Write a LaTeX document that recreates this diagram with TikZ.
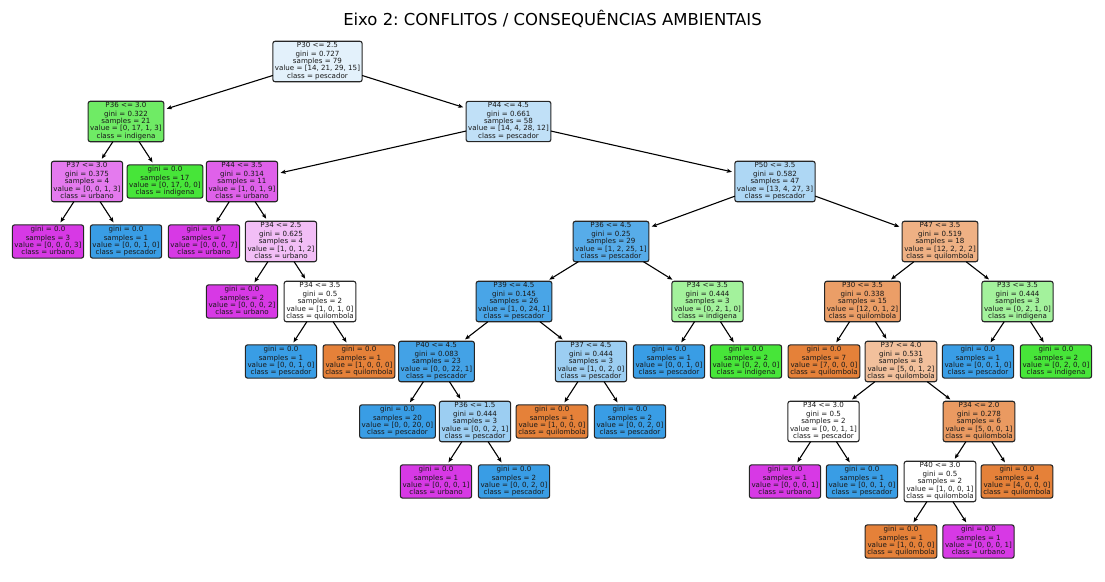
\documentclass[tikz,border=0pt]{standalone}
\usepackage{fontspec}
\setmainfont{DejaVu Sans}
\frenchspacing
\usetikzlibrary{arrows.meta}
\definecolor{quil}{HTML}{E58139}
\definecolor{ind}{HTML}{47E539}
\definecolor{pesc}{HTML}{399DE5}
\definecolor{urb}{HTML}{D739E5}
\begin{document}
\begin{tikzpicture}[x=1pt,y=-1pt,
  tnode/.style={draw=black!85,line width=1.1pt,rounded corners=2.2pt,align=center,
    font=\fontsize{7.1}{7.33}\selectfont,inner xsep=2.1pt,inner ysep=1.2pt,outer sep=0pt,text=black!90},
  edge/.style={draw=black,line width=1.1pt,-{Stealth[length=5pt,width=4pt,inset=1pt]},shorten >=3pt},
  ttl/.style={font=\fontsize{16.45}{19}\selectfont,anchor=base,inner sep=0pt}]
\useasboundingbox (0,0) rectangle (1105,581);
\node[ttl] (title) at (552.5,25) {Eixo 2: CONFLITOS / CONSEQUÊNCIAS AMBIENTAIS};
% level 0
\node[tnode,fill=pesc!14!white] (n0) at (317.5,61.5) {\strut P30 <= 2.5\\gini = 0.727\\samples = 79\\value = [14, 21, 29, 15]\\class = pescador\strut};
% level 1
\node[tnode,fill=ind!78!white] (n1) at (126,121.5) {\strut P36 <= 3.0\\gini = 0.322\\samples = 21\\value = [0, 17, 1, 3]\\class = indigena\strut};
\node[tnode,fill=pesc!32!white] (n2) at (508.5,121.5) {\strut P44 <= 4.5\\gini = 0.661\\samples = 58\\value = [14, 4, 28, 12]\\class = pescador\strut};
% level 2
\node[tnode,fill=urb!67!white] (n3) at (87,181.5) {\strut P37 <= 3.0\\gini = 0.375\\samples = 4\\value = [0, 0, 1, 3]\\class = urbano\strut};
\node[tnode,fill=ind] (n4) at (165,181.5) {\strut gini = 0.0\\samples = 17\\value = [0, 17, 0, 0]\\class = indigena\strut};
\node[tnode,fill=urb!80!white] (n5) at (242,181.5) {\strut P44 <= 3.5\\gini = 0.314\\samples = 11\\value = [1, 0, 1, 9]\\class = urbano\strut};
\node[tnode,fill=pesc!41!white] (n6) at (775,181.5) {\strut P50 <= 3.5\\gini = 0.582\\samples = 47\\value = [13, 4, 27, 3]\\class = pescador\strut};
% level 3
\node[tnode,fill=urb] (n7) at (48,241.5) {\strut gini = 0.0\\samples = 3\\value = [0, 0, 0, 3]\\class = urbano\strut};
\node[tnode,fill=pesc] (n8) at (126,241.5) {\strut gini = 0.0\\samples = 1\\value = [0, 0, 1, 0]\\class = pescador\strut};
\node[tnode,fill=urb] (n9) at (204,241.5) {\strut gini = 0.0\\samples = 7\\value = [0, 0, 0, 7]\\class = urbano\strut};
\node[tnode,fill=urb!33!white] (n10) at (281,241.5) {\strut P34 <= 2.5\\gini = 0.625\\samples = 4\\value = [1, 0, 1, 2]\\class = urbano\strut};
\node[tnode,fill=pesc!85!white] (n11) at (611,241.5) {\strut P36 <= 4.5\\gini = 0.25\\samples = 29\\value = [1, 2, 25, 1]\\class = pescador\strut};
\node[tnode,fill=quil!62!white] (n12) at (940,241.5) {\strut P47 <= 3.5\\gini = 0.519\\samples = 18\\value = [12, 2, 2, 2]\\class = quilombola\strut};
% level 4
\node[tnode,fill=urb] (n13) at (242,301.5) {\strut gini = 0.0\\samples = 2\\value = [0, 0, 0, 2]\\class = urbano\strut};
\node[tnode,fill=white] (n14) at (320,301.5) {\strut P34 <= 3.5\\gini = 0.5\\samples = 2\\value = [1, 0, 1, 0]\\class = quilombola\strut};
\node[tnode,fill=pesc!92!white] (n15) at (514,301.5) {\strut P39 <= 4.5\\gini = 0.145\\samples = 26\\value = [1, 0, 24, 1]\\class = pescador\strut};
\node[tnode,fill=ind!50!white] (n16) at (707.5,301.5) {\strut P34 <= 3.5\\gini = 0.444\\samples = 3\\value = [0, 2, 1, 0]\\class = indigena\strut};
\node[tnode,fill=quil!77!white] (n17) at (862.5,301.5) {\strut P30 <= 3.5\\gini = 0.338\\samples = 15\\value = [12, 0, 1, 2]\\class = quilombola\strut};
\node[tnode,fill=ind!50!white] (n18) at (1017.5,301.5) {\strut P33 <= 3.5\\gini = 0.444\\samples = 3\\value = [0, 2, 1, 0]\\class = indigena\strut};
% level 5
\node[tnode,fill=pesc] (n19) at (281,361.5) {\strut gini = 0.0\\samples = 1\\value = [0, 0, 1, 0]\\class = pescador\strut};
\node[tnode,fill=quil] (n20) at (359,361.5) {\strut gini = 0.0\\samples = 1\\value = [1, 0, 0, 0]\\class = quilombola\strut};
\node[tnode,fill=pesc!95!white] (n21) at (436.5,361.5) {\strut P40 <= 4.5\\gini = 0.083\\samples = 23\\value = [0, 0, 22, 1]\\class = pescador\strut};
\node[tnode,fill=pesc!50!white] (n22) at (591,361.5) {\strut P37 <= 4.5\\gini = 0.444\\samples = 3\\value = [1, 0, 2, 0]\\class = pescador\strut};
\node[tnode,fill=pesc] (n23) at (669,361.5) {\strut gini = 0.0\\samples = 1\\value = [0, 0, 1, 0]\\class = pescador\strut};
\node[tnode,fill=ind] (n24) at (746,361.5) {\strut gini = 0.0\\samples = 2\\value = [0, 2, 0, 0]\\class = indigena\strut};
\node[tnode,fill=quil] (n25) at (824,361.5) {\strut gini = 0.0\\samples = 7\\value = [7, 0, 0, 0]\\class = quilombola\strut};
\node[tnode,fill=quil!50!white] (n26) at (901,361.5) {\strut P37 <= 4.0\\gini = 0.531\\samples = 8\\value = [5, 0, 1, 2]\\class = quilombola\strut};
\node[tnode,fill=pesc] (n27) at (978,361.5) {\strut gini = 0.0\\samples = 1\\value = [0, 0, 1, 0]\\class = pescador\strut};
\node[tnode,fill=ind] (n28) at (1056,361.5) {\strut gini = 0.0\\samples = 2\\value = [0, 2, 0, 0]\\class = indigena\strut};
% level 6
\node[tnode,fill=pesc] (n29) at (397.5,421.5) {\strut gini = 0.0\\samples = 20\\value = [0, 0, 20, 0]\\class = pescador\strut};
\node[tnode,fill=pesc!50!white] (n30) at (475,421.5) {\strut P36 <= 1.5\\gini = 0.444\\samples = 3\\value = [0, 0, 2, 1]\\class = pescador\strut};
\node[tnode,fill=quil] (n31) at (552,421.5) {\strut gini = 0.0\\samples = 1\\value = [1, 0, 0, 0]\\class = quilombola\strut};
\node[tnode,fill=pesc] (n32) at (630,421.5) {\strut gini = 0.0\\samples = 2\\value = [0, 0, 2, 0]\\class = pescador\strut};
\node[tnode,fill=white] (n33) at (823.5,421.5) {\strut P34 <= 3.0\\gini = 0.5\\samples = 2\\value = [0, 0, 1, 1]\\class = pescador\strut};
\node[tnode,fill=quil!80!white] (n34) at (979,421.5) {\strut P34 <= 2.0\\gini = 0.278\\samples = 6\\value = [5, 0, 0, 1]\\class = quilombola\strut};
% level 7
\node[tnode,fill=urb] (n35) at (436,481.5) {\strut gini = 0.0\\samples = 1\\value = [0, 0, 0, 1]\\class = urbano\strut};
\node[tnode,fill=pesc] (n36) at (514,481.5) {\strut gini = 0.0\\samples = 2\\value = [0, 0, 2, 0]\\class = pescador\strut};
\node[tnode,fill=urb] (n37) at (785,481.5) {\strut gini = 0.0\\samples = 1\\value = [0, 0, 0, 1]\\class = urbano\strut};
\node[tnode,fill=pesc] (n38) at (862,481.5) {\strut gini = 0.0\\samples = 1\\value = [0, 0, 1, 0]\\class = pescador\strut};
\node[tnode,fill=white] (n39) at (940,481.5) {\strut P40 <= 3.0\\gini = 0.5\\samples = 2\\value = [1, 0, 0, 1]\\class = quilombola\strut};
\node[tnode,fill=quil] (n40) at (1017,481.5) {\strut gini = 0.0\\samples = 4\\value = [4, 0, 0, 0]\\class = quilombola\strut};
% level 8
\node[tnode,fill=quil] (n41) at (901,541.5) {\strut gini = 0.0\\samples = 1\\value = [1, 0, 0, 0]\\class = quilombola\strut};
\node[tnode,fill=urb] (n42) at (978.5,541.5) {\strut gini = 0.0\\samples = 1\\value = [0, 0, 0, 1]\\class = urbano\strut};
% edges
\foreach \p/\c in {n0/n1,n0/n2,n1/n3,n1/n4,n2/n5,n2/n6,n3/n7,n3/n8,n5/n9,n5/n10,n6/n11,n6/n12,
  n10/n13,n10/n14,n11/n15,n11/n16,n12/n17,n12/n18,n14/n19,n14/n20,n15/n21,n15/n22,n16/n23,n16/n24,
  n17/n25,n17/n26,n18/n27,n18/n28,n21/n29,n21/n30,n22/n31,n22/n32,n26/n33,n26/n34,n30/n35,n30/n36,
  n33/n37,n33/n38,n34/n39,n34/n40,n39/n41,n39/n42}
  \draw[edge] (\p) -- (\c);
\end{tikzpicture}
\end{document}
